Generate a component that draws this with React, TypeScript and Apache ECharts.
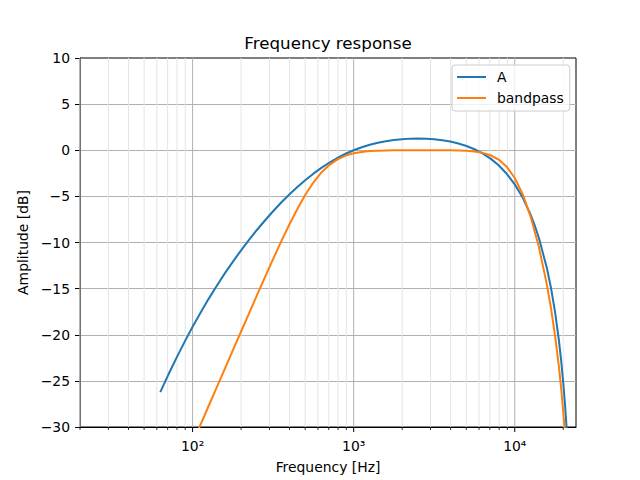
import React, { useEffect, useRef } from 'react';
import * as echarts from 'echarts';

// A-weighting curve (frequency in Hz, amplitude in dB)
const freqA = [63, 71, 80, 90, 100, 112, 125, 141, 160, 178, 200, 224, 250, 282, 315, 355, 400, 447, 500, 562, 630, 708, 800, 891, 1000, 1122, 1259, 1413, 1585, 1778, 1995, 2239, 2512, 2818, 3162, 3548, 3981, 4467, 5012, 5623, 6310, 7079, 7943, 8913, 10000, 11220, 12589, 13300, 14125, 15849, 16800, 17783, 18800, 19400, 19953, 20500, 21000, 21500];
const ampA = [-26.22, -24.26, -22.40, -20.64, -19.14, -17.61, -16.19, -14.71, -13.24, -12.07, -10.85, -9.71, -8.67, -7.59, -6.64, -5.67, -4.77, -3.99, -3.25, -2.54, -1.91, -1.33, -0.80, -0.38, 0.0, 0.32, 0.60, 0.81, 0.98, 1.12, 1.20, 1.26, 1.27, 1.25, 1.19, 1.09, 0.94, 0.73, 0.46, 0.11, -0.34, -0.91, -1.63, -2.55, -3.70, -5.15, -7.05, -8.14, -9.51, -12.81, -14.96, -17.52, -20.62, -22.75, -24.99, -27.51, -30.19, -33.36];

// bandpass curve
const freqB = [105, 112, 125, 141, 158, 178, 200, 224, 251, 282, 316, 355, 398, 447, 501, 562, 631, 708, 794, 891, 1000, 1122, 1259, 1413, 1585, 1778, 2000, 2512, 3162, 3981, 5012, 5623, 6310, 7079, 7943, 8913, 10000, 11220, 12589, 14125, 15849, 16800, 17783, 18800, 19400, 19953, 20500, 21000];
const ampB = [-30.87, -29.74, -27.83, -25.73, -23.75, -21.67, -19.65, -17.68, -15.71, -13.72, -11.80, -9.88, -8.08, -6.36, -4.83, -3.50, -2.41, -1.58, -0.99, -0.585, -0.33, -0.178, -0.089, -0.041, -0.016, -0.005, 0.0, 0.0, 0.0, -0.009, -0.063, -0.138, -0.28, -0.542, -1.004, -1.784, -3.01, -4.79, -7.29, -10.50, -14.62, -17.16, -20.08, -23.49, -25.77, -28.13, -30.77, -33.53];

const seriesNames = ['A', 'bandpass'];
const majorTicks = [100, 1000, 10000];
const minorTicks = [20, 30, 40, 50, 60, 70, 80, 90, 200, 300, 400, 500, 600, 700, 800, 900, 2000, 3000, 4000, 5000, 6000, 7000, 8000, 9000, 20000];
const xMin = 20;
const xMax = 24000;
const yMin = -30;
const yMax = 10;
const yStep = 5;

const FONT = 'DejaVu Sans';
const SUP: Record<string, string> = { '0': '\u2070', '1': '\u00b9', '2': '\u00b2', '3': '\u00b3', '4': '\u2074', '5': '\u2075', '6': '\u2076', '7': '\u2077', '8': '\u2078', '9': '\u2079' };

export default function App() {
  const ref = useRef<HTMLDivElement>(null);
  useEffect(() => {
    const chart = echarts.init(ref.current!, null, { renderer: 'svg' });
    const tickData = majorTicks.map((f) => [f, 1]).concat(minorTicks.map((f) => [f, 0]));
    chart.setOption({
      animation: false,
      backgroundColor: '#ffffff',
      title: {
        text: 'Frequency response',
        left: 328,
        textAlign: 'center',
        top: 34,
        padding: 0,
        textStyle: { fontFamily: FONT, fontSize: 16.7, fontWeight: 'normal', color: '#000' },
      },
      legend: {
        data: seriesNames,
        orient: 'vertical',
        left: 452,
        top: 65,
        icon: 'rect',
        itemWidth: 29,
        itemHeight: 2,
        itemGap: 7,
        padding: [5, 6, 6, 5],
        backgroundColor: 'rgba(255,255,255,0.8)',
        borderColor: '#cccccc',
        borderWidth: 1,
        borderRadius: 3,
        formatter: (name: string) => '{t|' + name + '}',
        textStyle: {
          fontFamily: FONT,
          fontSize: 13.9,
          color: '#000',
          rich: { t: { fontFamily: FONT, fontSize: 13.9, color: '#000', padding: [0, 0, 0, 6], lineHeight: 14 } },
        },
      },
      grid: {
        left: 80,
        right: 64,
        top: 58,
        bottom: 53,
        show: true,
        borderColor: '#000',
        borderWidth: 1,
        backgroundColor: 'transparent',
      },
      xAxis: {
        type: 'log',
        logBase: 10,
        min: xMin,
        max: xMax,
        name: 'Frequency [Hz]',
        nameLocation: 'middle',
        nameGap: 33,
        nameTextStyle: { fontFamily: FONT, fontSize: 13.9, color: '#000' },
        axisLine: { show: true, onZero: false, lineStyle: { color: '#000', width: 1 } },
        axisTick: { show: false },
        splitLine: { show: false },
        minorTick: { show: false },
        axisLabel: {
          margin: 12,
          fontFamily: FONT,
          fontSize: 13.9,
          color: '#000',
          formatter: (v: number) => {
            const e = Math.round(Math.log10(v));
            if (Math.abs(Math.pow(10, e) - v) / v > 1e-6) return '';
            return '10' + String(e).split('').map((c) => SUP[c] || c).join('');
          },
        },
      },
      yAxis: {
        type: 'value',
        min: yMin,
        max: yMax,
        interval: yStep,
        name: 'Amplitude [dB]',
        nameLocation: 'middle',
        nameGap: 37,
        nameTextStyle: { fontFamily: FONT, fontSize: 13.9, color: '#000' },
        axisLine: { show: true, onZero: false, lineStyle: { color: '#000', width: 1 } },
        axisTick: { show: true, inside: false, length: 5, lineStyle: { color: '#000', width: 1 } },
        splitLine: { show: true, showMinLine: false, showMaxLine: false, lineStyle: { color: '#b0b0b0', width: 1 } },
        axisLabel: {
          margin: 10,
          fontFamily: FONT,
          fontSize: 13.9,
          color: '#000',
          formatter: (v: number) => (v < 0 ? '\u2212' + Math.abs(v) : String(v)),
        },
      },
      series: [
        {
          type: 'custom',
          name: 'ticks',
          z: 1,
          silent: true,
          data: tickData,
          encode: { x: 0, y: 1 },
          renderItem: (params: any, api: any) => {
            const f = api.value(0);
            const major = api.value(1) === 1;
            const top = api.coord([f, yMax]);
            const bot = api.coord([f, yMin]);
            return {
              type: 'group',
              children: [
                {
                  type: 'line',
                  shape: { x1: top[0], y1: top[1], x2: bot[0], y2: bot[1] },
                  style: { stroke: major ? '#b0b0b0' : '#e4e4e4', lineWidth: 1 },
                },
                {
                  type: 'line',
                  shape: { x1: bot[0], y1: bot[1], x2: bot[0], y2: bot[1] + (major ? 5 : 3) },
                  style: { stroke: '#000', lineWidth: major ? 1 : 0.8 },
                },
              ],
            };
          },
        },
        {
          type: 'line',
          name: seriesNames[0],
          z: 3,
          data: freqA.map((f, i) => [f, ampA[i]]),
          showSymbol: false,
          symbol: 'none',
          smooth: false,
          color: '#1f77b4',
          lineStyle: { color: '#1f77b4', width: 2 },
        },
        {
          type: 'line',
          name: seriesNames[1],
          z: 4,
          data: freqB.map((f, i) => [f, ampB[i]]),
          showSymbol: false,
          symbol: 'none',
          smooth: false,
          color: '#ff7f0e',
          lineStyle: { color: '#ff7f0e', width: 2 },
        },
      ],
    });
    return () => chart.dispose();
  }, []);
  return (
    <div
      ref={ref}
      style={{ position: 'fixed', left: 0, top: 0, width: 640, height: 480, background: '#fff' }}
    />
  );
}
